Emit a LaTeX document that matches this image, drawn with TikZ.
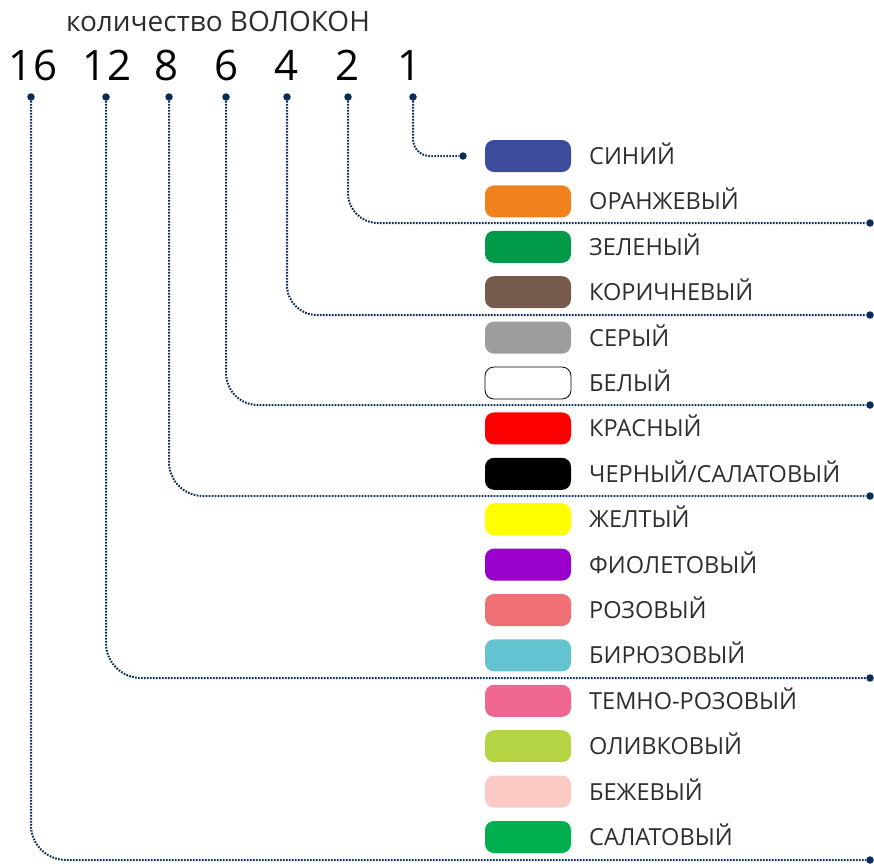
\documentclass[tikz,border=0pt]{standalone}
\usepackage{fontspec}
\setmainfont{Open Sans}
\definecolor{navy}{RGB}{12,44,88}
\definecolor{txt}{RGB}{45,45,45}
\definecolor{cBlue}{RGB}{61,76,154}
\definecolor{cOrange}{RGB}{240,130,30}
\definecolor{cGreen}{RGB}{0,154,73}
\definecolor{cBrown}{RGB}{118,90,76}
\definecolor{cGray}{RGB}{157,157,156}
\definecolor{cRed}{RGB}{255,0,0}
\definecolor{cYellow}{RGB}{255,255,0}
\definecolor{cViolet}{RGB}{153,0,204}
\definecolor{cPink}{RGB}{238,112,117}
\definecolor{cTurq}{RGB}{100,195,209}
\definecolor{cDPink}{RGB}{240,104,146}
\definecolor{cOlive}{RGB}{181,212,67}
\definecolor{cBeige}{RGB}{251,202,197}
\definecolor{cLime}{RGB}{0,176,80}
\tikzset{
  swatch/.style={rectangle, rounded corners=9pt, minimum width=86pt, minimum height=32pt, inner sep=0pt},
  lbl/.style={anchor=base west, inner sep=0pt, text=txt, font=\fontsize{23.5}{25}\selectfont},
  num/.style={anchor=base, inner sep=0pt, font=\fontsize{42}{46}\selectfont},
  pin/.style={circle, fill=navy, inner sep=0pt, minimum size=7.5pt},
  conn/.style={draw=navy, line width=2pt, dash pattern=on 1.7pt off 1.3pt},
}
\begin{document}
\begin{tikzpicture}[x=1pt,y=-1pt]
\useasboundingbox (0,0) rectangle (874,865);
\node[anchor=base, inner sep=0pt, text=txt, font=\fontsize{28}{30}\selectfont] (title) at (218,31) {количество ВОЛОКОН};
% numbers
\foreach \n/\x in {16/33,12/107,8/167,6/227,4/287,2/348,1/409}{
  \node[num] (n\n) at (\x,80) {\n};
}
% pins
\foreach \n/\x in {16/31,12/106,8/169,6/226,4/287,2/348,1/413}{
  \node[pin] (d\n) at (\x,97) {};
}
% swatches and labels
\foreach \i/\c/\t in {0/cBlue/СИНИЙ,1/cOrange/ОРАНЖЕВЫЙ,2/cGreen/ЗЕЛЕНЫЙ,3/cBrown/КОРИЧНЕВЫЙ,4/cGray/СЕРЫЙ,6/cRed/КРАСНЫЙ,7/black/{ЧЕРНЫЙ/САЛАТОВЫЙ},8/cYellow/ЖЕЛТЫЙ,9/cViolet/ФИОЛЕТОВЫЙ,10/cPink/РОЗОВЫЙ,11/cTurq/БИРЮЗОВЫЙ,12/cDPink/ТЕМНО-РОЗОВЫЙ,13/cOlive/ОЛИВКОВЫЙ,14/cBeige/БЕЖЕВЫЙ,15/cLime/САЛАТОВЫЙ}{
  \node[swatch, fill=\c] (s\i) at (528,156+45.4*\i) {};
  \node[lbl] (l\i) at (589,164.5+45.4*\i) {\t};
}
\node[swatch, draw=black, line width=0.8pt, fill=white] (s5) at (528,156+45.4*5) {};
\node[lbl] (l5) at (589,164.5+45.4*5) {БЕЛЫЙ};
% end pins
\node[pin] (e1) at (463,156) {};
\foreach \n/\y in {2/223,4/315,6/405,8/496,12/678,16/860}{
  \node[pin] (e\n) at (870,\y) {};
}
% connectors
\draw[conn, rounded corners=17pt] (d1) |- (e1);
\draw[conn, rounded corners=30pt] (d2) |- (e2);
\draw[conn, rounded corners=30pt] (d4) |- (e4);
\draw[conn, rounded corners=32pt] (d6) |- (e6);
\draw[conn, rounded corners=34pt] (d8) |- (e8);
\draw[conn, rounded corners=35pt] (d12) |- (e12);
\draw[conn, rounded corners=35pt] (d16) |- (e16);
\end{tikzpicture}
\end{document}
